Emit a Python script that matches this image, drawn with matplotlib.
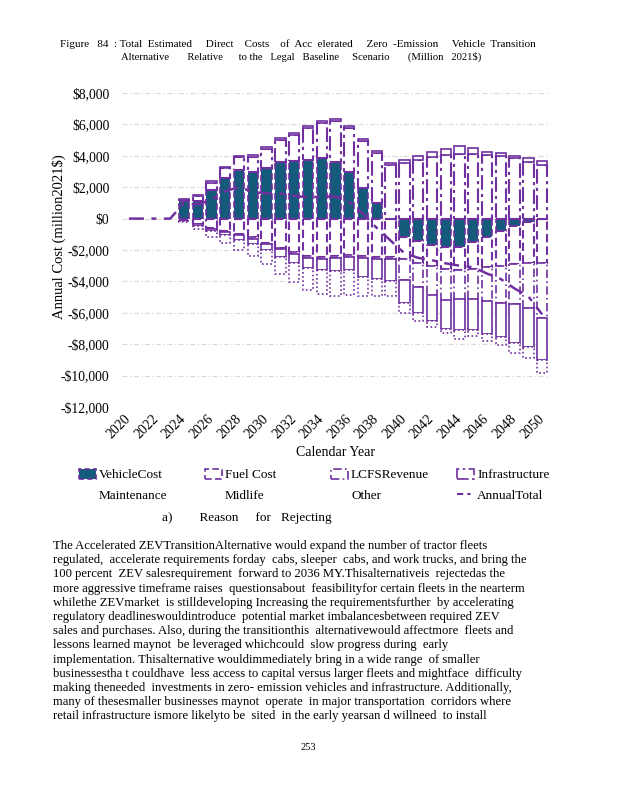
import numpy as np
import matplotlib
matplotlib.use("Agg")
import matplotlib.pyplot as plt
from matplotlib.patches import Patch
from matplotlib.lines import Line2D
from matplotlib.ticker import FuncFormatter

plt.rcParams['font.family'] = ['Liberation Serif', 'DejaVu Serif']

# data (million 2021$)
years = list(range(2020, 2051))
vehicle = [0, 0, 0, 0, 1100, 1150, 1850, 2600, 3100, 2950, 3200, 3600, 3650, 3750, 3850, 3600,
           3000, 1950, 1000, 0, -1170, -1450, -1660, -1800, -1830, -1500, -1170, -800, -490, -240, -50]
fuel = [0, 0, 0, 0, -120, -320, -600, -780, -1000, -1200, -1550, -1850, -2150, -2400, -2450, -2400,
        -2300, -2400, -2450, -2450, -1430, -1350, -1340, -1400, -1470, -1700, -1930, -2200, -2400, -2600, -2750]
lcfs = [0, 0, 0, 0, -10, -30, -40, -50, -60, -70, -80, -90, -100, -110, -120, -130,
        -140, -100, -120, -150, -1300, -1570, -1840, -1960, -1800, -1900, -2170, -2370, -2580, -2850, -3520]
infra = [0, 0, 0, 0, 100, 280, 420, 600, 800, 1000, 1250, 1420, 1690, 2050, 2230, 2620,
         2790, 3000, 3200, 3420, 3550, 3760, 3930, 4080, 4140, 4140, 4080, 3970, 3840, 3600, 3440]
maint = [0, 0, 0, 0, -40, -100, -180, -240, -290, -350, -400, -480, -560, -620, -680, -820,
         -850, -1200, -1270, -1400, -1500, -1630, -1700, -1840, -1970, -1970, -2050, -2160, -2440, -2490, -2660]
midlife = [0, 0, 0, 0, -70, -200, -370, -480, -650, -780, -870, -1080, -1240, -1440, -1530, -1600,
           -1560, -1200, -1060, -950, -600, -550, -360, -300, -570, -430, -450, -540, -630, -690, -850]
other = [0, 0, 0, 0, 50, 100, 100, 100, 100, 120, 120, 120, 120, 120, 120, 130,
         130, 130, 130, 130, 210, 240, 340, 380, 510, 360, 190, 230, 160, 270, 260]
total = [0, 0, 0, 0, 1000, 900, 1200, 1750, 2000, 1700, 1600, 1600, 1450, 1350, 1400, 1400,
         1050, 300, -600, -1400, -2200, -2500, -2650, -2850, -3000, -3100, -3500, -3850, -4450, -4950, -6100]

purple = '#7030A0'
teal = '#145A7A'

fig = plt.figure(figsize=(6.18, 8), dpi=100)
ax = fig.add_axes([122 / 618, 1 - 407 / 800, 427 / 618, 314 / 800])

stack = [
    (vehicle, teal, (0, (4, 2)), 1.2),
    (fuel, 'white', (0, (4, 2)), 1.5),
    (lcfs, 'white', (0, (5, 2, 1, 2)), 1.2),
    (infra, 'white', (0, (7, 2, 1.5, 2)), 1.5),
    (maint, 'white', '-', 1.2),
    (midlife, 'white', (0, (1, 1.5)), 1.2),
    (other, 'white', '-', 1.2),
]
x = np.array(years)
pos = np.zeros(len(years))
neg = np.zeros(len(years))
for vals, fc, ls, lw in stack:
    v = np.array(vals, dtype=float)
    base = np.where(v >= 0, pos, neg)
    m = v != 0
    ax.bar(x[m], v[m], width=0.75, bottom=base[m], facecolor=fc, edgecolor=purple,
           linestyle=ls, linewidth=lw, zorder=2)
    pos += np.clip(v, 0, None)
    neg += np.clip(v, None, 0)

ax.plot(years, total, color=purple, lw=1.8, ls=(0, (6, 3, 2, 3)), zorder=3)

ax.set_xlim(2019.5, 2050.5)
ax.set_ylim(-12000, 8000)
ax.set_yticks(range(-12000, 8001, 2000))
ax.yaxis.set_major_formatter(FuncFormatter(
    lambda v, p: ('-$' if v < 0 else '$') + f"{abs(v):,.0f}"))
ax.set_xticks(range(2020, 2051, 2))
ax.set_xticklabels([str(y) for y in range(2020, 2051, 2)], rotation=45,
                   ha='right', va='center', rotation_mode='anchor')
ax.tick_params(axis='x', length=0, pad=7, labelsize=10)
ax.tick_params(axis='y', length=0, pad=9, labelsize=9.8)
ax.grid(axis='y', color='#d9d9d9', ls=(0, (4, 2, 1, 2)), lw=0.9)
ax.set_axisbelow(True)
for s in ax.spines.values():
    s.set_visible(False)

fig.text(59 / 618, 1 - 237 / 800, 'Annual Cost (million2021$)', rotation=90,
         ha='center', va='center', fontsize=10.5)
fig.text(335 / 618, 1 - 453 / 800, 'Calendar Year', ha='center', va='center', fontsize=10)

# legend, four columns of two rows
blank = Patch(facecolor='none', edgecolor='none')
cols = [
    (Patch(facecolor=teal, edgecolor=purple, ls=(0, (3, 2)), lw=1.2), 'VehicleCost', 'Maintenance', blank),
    (Patch(facecolor='white', edgecolor=purple, ls=(0, (4, 2)), lw=1.2), 'Fuel Cost', 'Midlife', blank),
    (Patch(facecolor='white', edgecolor=purple, ls=(0, (5, 2, 1, 2)), lw=1.2), 'LCFSRevenue', 'Other', blank),
    (Patch(facecolor='white', edgecolor=purple, ls=(0, (7, 2, 1.5, 2)), lw=1.2), 'Infrastructure', 'AnnualTotal',
     Line2D([], [], color=purple, lw=1.5, ls=(0, (3, 2, 1.5, 2)))),
]
xs = [72, 198, 324, 450]
for xp, (h1, t1, t2, h2) in zip(xs, cols):
    fig.legend([h1, h2], [t1, t2], loc='upper left', bbox_to_anchor=(xp / 618, 1 - 462 / 800),
               frameon=False, fontsize=9.5, handlelength=1.35, handleheight=0.8,
               handletextpad=0.2, labelspacing=0.6, borderpad=0)

fig.text(162 / 618, 1 - 518 / 800, 'a)        Reason     for   Rejecting', fontsize=9.5, va='center')

fig.text(60 / 618, 1 - 44 / 800,
         'Figure   84  : Total  Estimated     Direct    Costs    of  Acc  elerated     Zero  -Emission     Vehicle  Transition',
         fontsize=8.0, va='center')
fig.text(121 / 618, 1 - 57 / 800,
         'Alternative       Relative      to the   Legal   Baseline     Scenario       (Million   2021$)',
         fontsize=7.7, va='center')

para = [
    "The Accelerated ZEVTransitionAlternative would expand the number of tractor fleets",
    "regulated,  accelerate requirements forday  cabs, sleeper  cabs, and work trucks, and bring the",
    "100 percent  ZEV salesrequirement  forward to 2036 MY.Thisalternativeis  rejectedas the",
    "more aggressive timeframe raises  questionsabout  feasibilityfor certain fleets in the nearterm",
    "whilethe ZEVmarket  is stilldeveloping Increasing the requirementsfurther  by accelerating",
    "regulatory deadlineswouldintroduce  potential market imbalancesbetween required ZEV",
    "sales and purchases. Also, during the transitionthis  alternativewould affectmore  fleets and",
    "lessons learned maynot  be leveraged whichcould  slow progress during  early",
    "implementation. Thisalternative wouldimmediately bring in a wide range  of smaller",
    "businessestha t couldhave  less access to capital versus larger fleets and mightface  difficulty",
    "making theneeded  investments in zero- emission vehicles and infrastructure. Additionally,",
    "many of thesesmaller businesses maynot  operate  in major transportation  corridors where",
    "retail infrastructure ismore likelyto be  sited  in the early yearsan d willneed  to install",
]
for i, line in enumerate(para):
    fig.text(53 / 618, 1 - (546 + i * 14.2) / 800, line, fontsize=9.1, va='center')

fig.text(308 / 618, 1 - 747 / 800, '253', fontsize=7.5, ha='center', va='center')

fig.savefig('out.png', dpi=100)
